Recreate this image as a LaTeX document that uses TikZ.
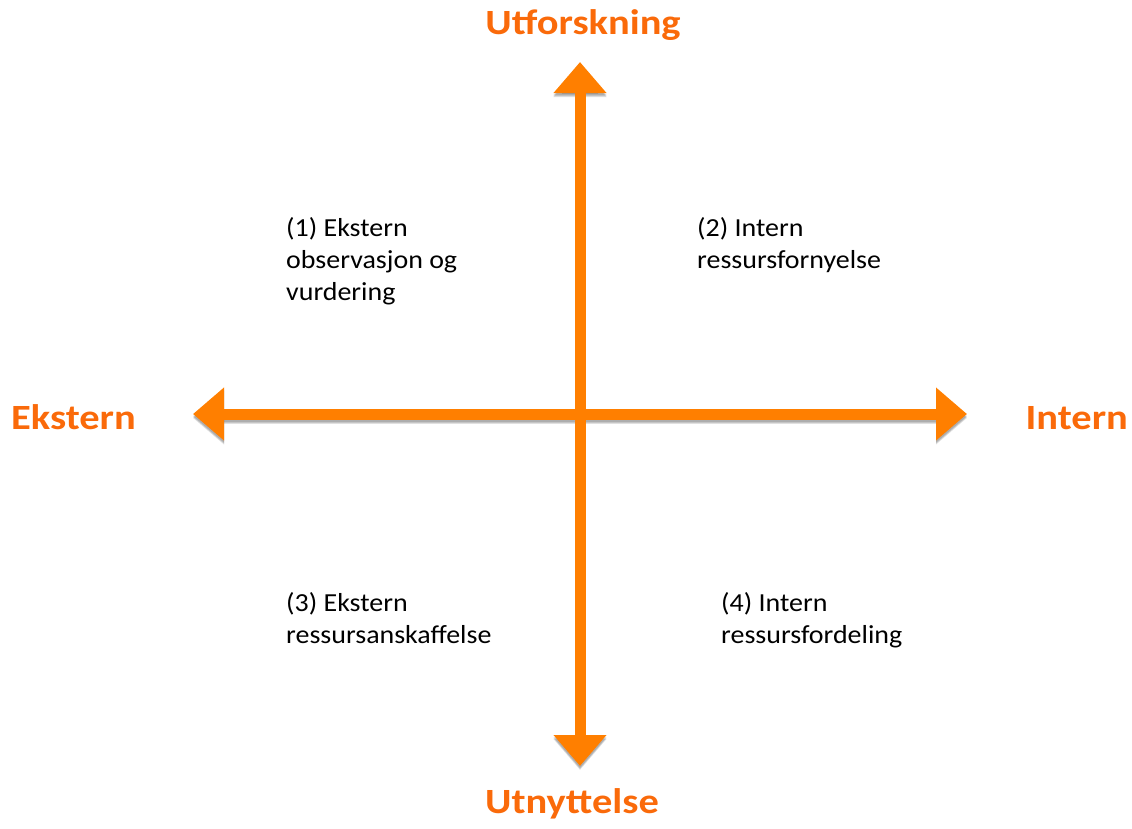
\documentclass[tikz,border=0pt]{standalone}
\usepackage{fontspec}
\setmainfont{Carlito}
\usetikzlibrary{arrows.meta}

\definecolor{axisorange}{RGB}{255,127,0}
\definecolor{labelorange}{RGB}{250,106,10}

% wide-set lettering
\newcommand{\widebig}[1]{\scalebox{1.14}[1]{#1}}
\newcommand{\widequad}[1]{\scalebox{1.075}[1]{#1}}

\tikzset{
  axis/.style={draw=axisorange, line width=11pt,
    {Triangle[length=31pt,width=51pt]}-{Triangle[length=31pt,width=51pt]}},
  axisshadow/.style={draw=black, line width=11pt, draw opacity=0.12,
    {Triangle[length=31pt,width=51pt]}-{Triangle[length=31pt,width=51pt]}},
  polelabel/.style={text=labelorange, font=\bfseries\fontsize{35.5}{40}\selectfont,
    inner sep=0pt},
  quadlabel/.style={text=black, font=\fontsize{26}{32}\selectfont,
    align=left, inner sep=0pt, anchor=base west},
}

\begin{document}
\begin{tikzpicture}[x=1pt,y=-1pt]
  \useasboundingbox (0,0) rectangle (1132,828);

  % axis end points
  \coordinate (top) at (580,62);
  \coordinate (bottom) at (580,766);
  \coordinate (left) at (193,414);
  \coordinate (right) at (967,414);

  % soft drop shadow under both axes
  \foreach \dy in {2,3,4} {
    \path[axisshadow] ([yshift=-\dy pt]left) -- ([yshift=-\dy pt]right);
    \path[axisshadow] ([yshift=-\dy pt]top) -- ([yshift=-\dy pt]bottom);
  }

  % the two double-headed axes
  \path[axis] (left) -- (right);
  \path[axis] (bottom) -- (top);

  % pole labels
  \node[polelabel, anchor=base] (explore) at (583,34) {\widebig{Utforskning}};
  \node[polelabel, anchor=base] (exploit) at (572,813) {\widebig{Utnyttelse}};
  \node[polelabel, anchor=base west] (ext) at (11,429) {\widebig{Ekstern}};
  \node[polelabel, anchor=base east] (int) at (1128,429) {\widebig{Intern}};

  % quadrant labels (anchored at the baseline of the last line)
  \node[quadlabel] (q1) at (286,300)
    {\widequad{(1) Ekstern}\\\widequad{observasjon og}\\\widequad{vurdering}};
  \node[quadlabel] (q2) at (697,268)
    {\widequad{(2) Intern}\\\widequad{ressursfornyelse}};
  \node[quadlabel] (q3) at (286,643)
    {\widequad{(3) Ekstern}\\\widequad{ressursanskaffelse}};
  \node[quadlabel] (q4) at (721,643)
    {\widequad{(4) Intern}\\\widequad{ressursfordeling}};
\end{tikzpicture}
\end{document}
